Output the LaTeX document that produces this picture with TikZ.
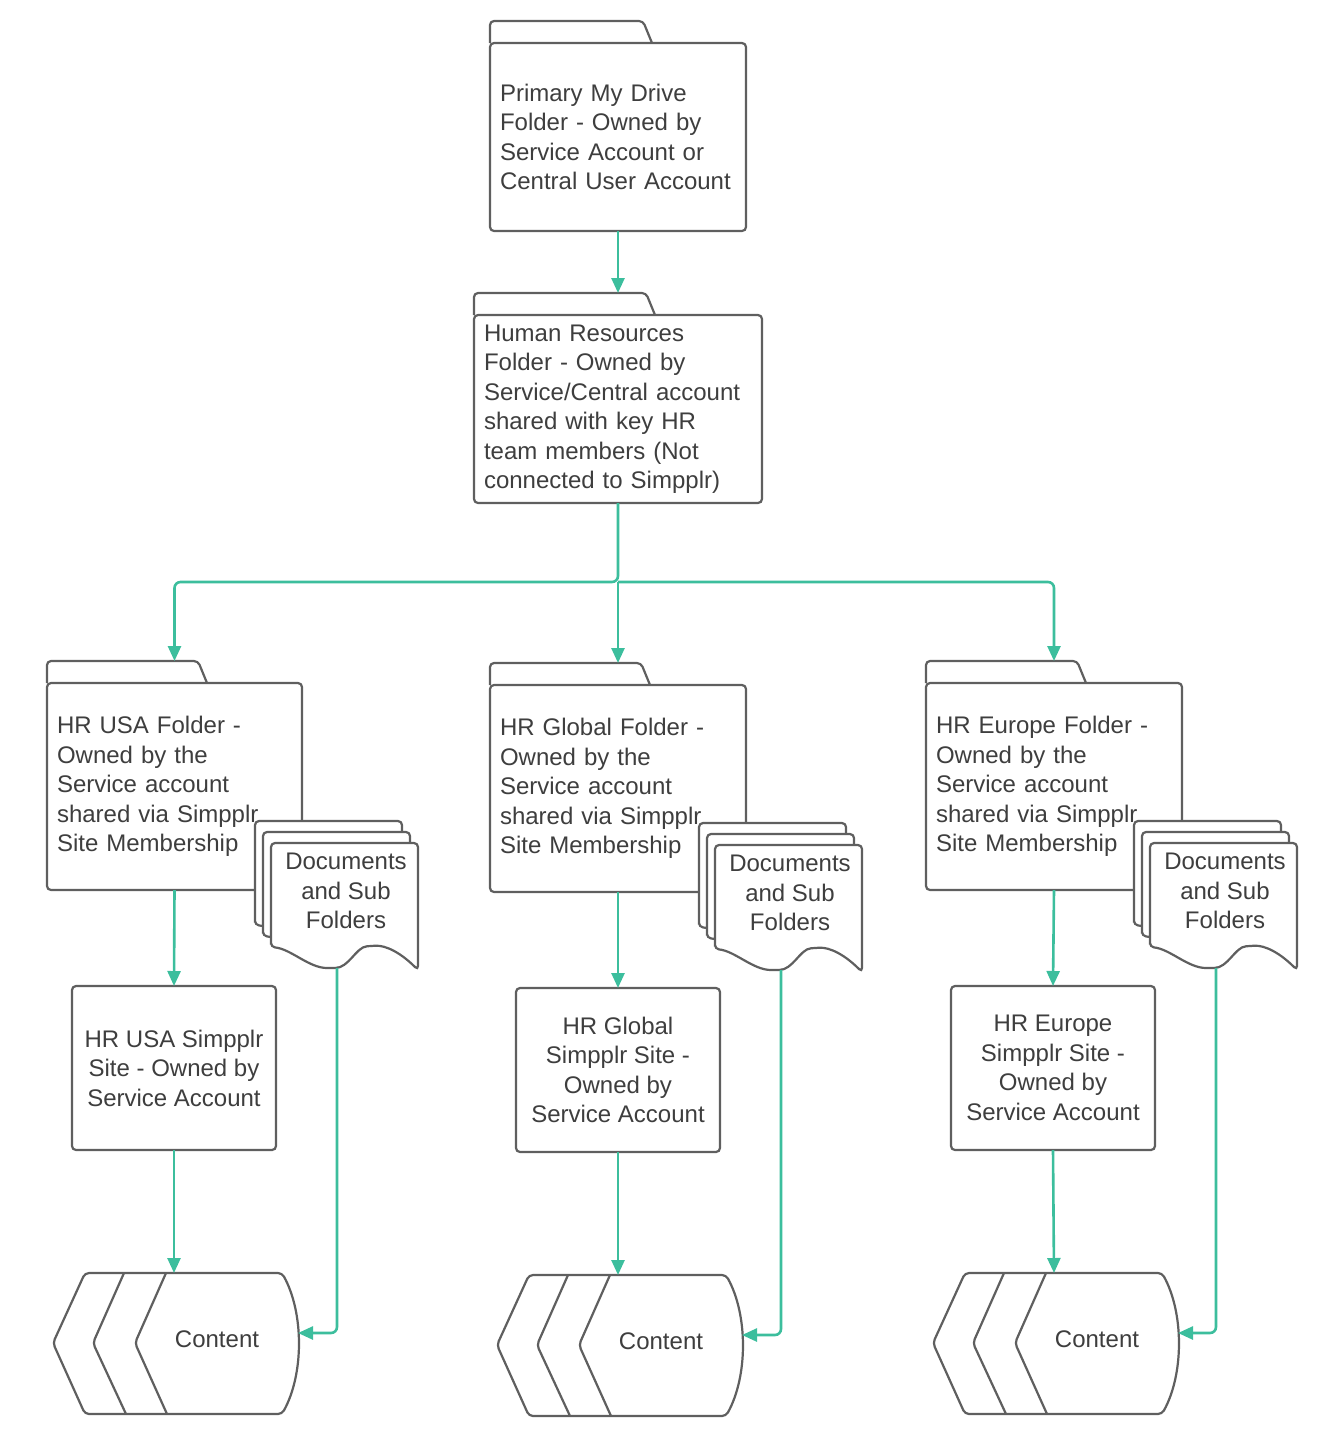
\documentclass[tikz,border=0pt]{standalone}
\usepackage{fontspec}
\setmainfont{Liberation Sans}
\usetikzlibrary{arrows.meta,calc}

\definecolor{edgegray}{RGB}{95,95,95}
\definecolor{textgray}{RGB}{62,62,62}
\definecolor{flowgreen}{RGB}{60,190,157}

\tikzset{
  shapeline/.style={draw=edgegray, line width=2.2pt, rounded corners=4pt},
  txt/.style={text=textgray, font=\fontsize{24}{29.5}\selectfont},
  folderbox/.style={shapeline, fill=white, txt, anchor=north west, align=left, inner xsep=10pt, inner ysep=0pt, outer sep=0pt},
  sitebox/.style={shapeline, fill=white, txt, align=center, minimum width=204pt, minimum height=164pt, outer sep=0pt},
  flow/.style={draw=flowgreen, line width=2.6pt, rounded corners=6pt, -{Triangle[length=15pt,width=13pt]}},
}

% folder: name, top left of body, text width, height, tab width, text
\newcommand{\folder}[6]{%
  \node[folderbox, text width=#3pt, minimum height=#4pt] (#1) at (#2) {#6};
  \draw[shapeline] (#1.north west) -- ++(0,-22) -- ++({#5-9},0) -- ++(9,22);
  \coordinate (#1-tab) at ($(#1.north)+(0,-22)$);
}

% one page of a document stack
\newcommand{\docpage}[2]{%
  \filldraw[shapeline, fill=white, shift={(#1,#2)}] (0,104) -- (0,0) -- (147,0) -- (147,127)
    .. controls (130,110) and (115,102) .. (100,103)
    .. controls (85,104) and (78,125) .. (60,125)
    .. controls (38,125) and (20,106) .. (0,104) -- cycle;
}

% document stack: name, x, y
\newcommand{\docstack}[3]{%
  \docpage{#2}{#3}
  \docpage{#2+8}{#3+11}
  \docpage{#2+16}{#3+22}
  \node[txt, align=center] (#1) at ({#2+91},{#3+70}) {Documents\\and Sub\\Folders};
  \coordinate (#1-out) at ({#2+82},{#3+147});
}

% content shape: name, x, y
\newcommand{\contentstack}[3]{%
  \begin{scope}[shift={(#2,#3)}]
    \filldraw[shapeline, fill=white] (32,0) -- (229,0) .. controls (251,40) and (251,101) .. (229,141)
      -- (32,141) -- (0,70) -- cycle;
    \draw[shapeline] (71,0) -- (40,70) -- (73,141);
    \draw[shapeline] (113,0) -- (82,70) -- (114,141);
    \node[txt] (#1) at (164,66) {Content};
    \coordinate (#1-top) at (121,0);
    \coordinate (#1-in) at (245,60);
  \end{scope}
}

\begin{document}
\begin{tikzpicture}[x=1pt, y=-1pt]
    \useasboundingbox (0,0) rectangle (1340,1436);

    % Folders
    \folder{drive}{490,43}{236}{188}{162}{Primary My Drive\\Folder - Owned by\\Service Account or\\Central User Account}
    \folder{hr}{474,315}{268}{188}{181}{Human Resources\\Folder - Owned by\\Service/Central account\\shared with key HR\\team members (Not\\connected to Simpplr)}
    \folder{usa}{47,683}{235}{207}{160}{HR USA Folder -\\Owned by the\\Service account\\shared via Simpplr\\Site Membership}
    \folder{gl}{490,685}{236}{207}{160}{HR Global Folder -\\Owned by the\\Service account\\shared via Simpplr\\Site Membership}
    \folder{eu}{926,683}{236}{207}{160}{HR Europe Folder -\\Owned by the\\Service account\\shared via Simpplr\\Site Membership}

    % Documents and sub folders
    \docstack{usaDocs}{255}{821}
    \docstack{glDocs}{699}{823}
    \docstack{euDocs}{1134}{821}

    % Simpplr sites
    \node[sitebox] (usaSite) at (174,1068) {HR USA Simpplr\\Site - Owned by\\Service Account};
    \node[sitebox] (glSite) at (618,1070) {HR Global\\Simpplr Site -\\Owned by\\Service Account};
    \node[sitebox] (euSite) at (1053,1068) {HR Europe\\Simpplr Site -\\Owned by\\Service Account};

    % Content
    \contentstack{usaC}{53}{1273}
    \contentstack{glC}{497}{1275}
    \contentstack{euC}{933}{1273}

    % Connectors
    \draw[flow] (drive.south) -- (hr-tab);
    \coordinate (split) at (618,582);
    \draw[flow] (hr.south) -- (split) -| (usa-tab);
    \draw[flow] (split) -| (eu-tab);
    \draw[flow] (split) -- (gl-tab);

    \draw[flow] (usa.south) -- (usaSite.north);
    \draw[flow] (gl.south) -- (glSite.north);
    \draw[flow] (eu.south) -- (euSite.north);

    \draw[flow] (usaSite.south) -- (usaC-top);
    \draw[flow] (glSite.south) -- (glC-top);
    \draw[flow] (euSite.south) -- (euC-top);

    \draw[flow] (usaDocs-out) |- (usaC-in);
    \draw[flow] (glDocs-out) |- (glC-in);
    \draw[flow] (euDocs-out) |- (euC-in);
\end{tikzpicture}
\end{document}
